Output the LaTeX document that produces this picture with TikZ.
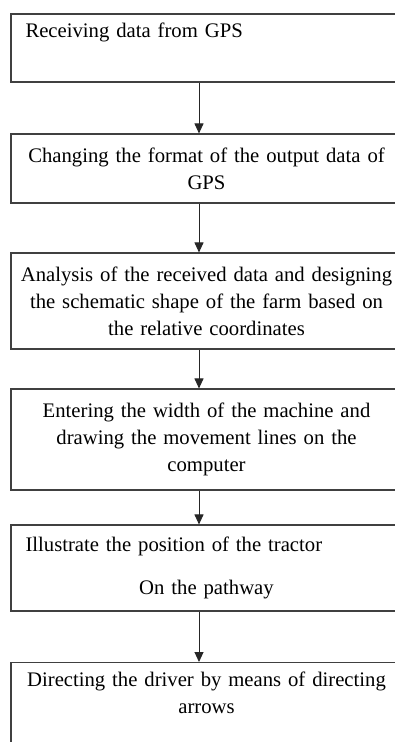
\documentclass[tikz,border=0pt]{standalone}
\usepackage{fontspec}
\setmainfont{Liberation Serif}
\usetikzlibrary{arrows.meta}

\begin{document}
\begin{tikzpicture}[x=1pt,y=1pt,>={Triangle[length=10pt,width=9pt]},
  box/.style={draw=black!75,line width=1.1pt,minimum width=391pt,
    text width=372pt,inner xsep=9.5pt,inner ysep=0pt,align=center,
    font=\fontsize{20.7}{27}\selectfont},
  flow/.style={->,line width=0.9pt,black!85}]
\useasboundingbox (0,0) rectangle (395,-742);
\clip (0,0) rectangle (395,-742);
\coordinate (ax) at (199,0);
% the six steps, top to bottom
\node[box,align=left,minimum height=68pt] (b1) at (206.5,-48) {\hspace*{5pt}Receiving data from GPS\\ \strut};
\node[box,minimum height=69pt] (b2) at (206.5,-168.5) {Changing the format of the output data of\\GPS};
\node[box,minimum height=96pt] (b3) at (206.5,-301) {Analysis of the received data and designing\\the schematic shape of the farm based on\\the relative coordinates};
\node[box,minimum height=101pt] (b4) at (206.5,-439.5) {Entering the width of the machine and\\drawing the movement lines on the\\computer};
\node[box,align=left,minimum height=86pt] (b5) at (206.5,-568) {\hspace*{5pt}Illustrate the position of the tractor\\[16pt]\makebox[\linewidth]{On the pathway}};
\node[box,minimum height=96pt,anchor=north] (b6) at (206.5,-662) {Directing the driver by means of directing\\arrows\\ \strut};
% arrows between the steps
\foreach \a/\b in {b1/b2,b2/b3,b3/b4,b4/b5,b5/b6}
  \draw[flow] (\a.south -| ax) -- (\b.north -| ax);
\end{tikzpicture}
\end{document}
